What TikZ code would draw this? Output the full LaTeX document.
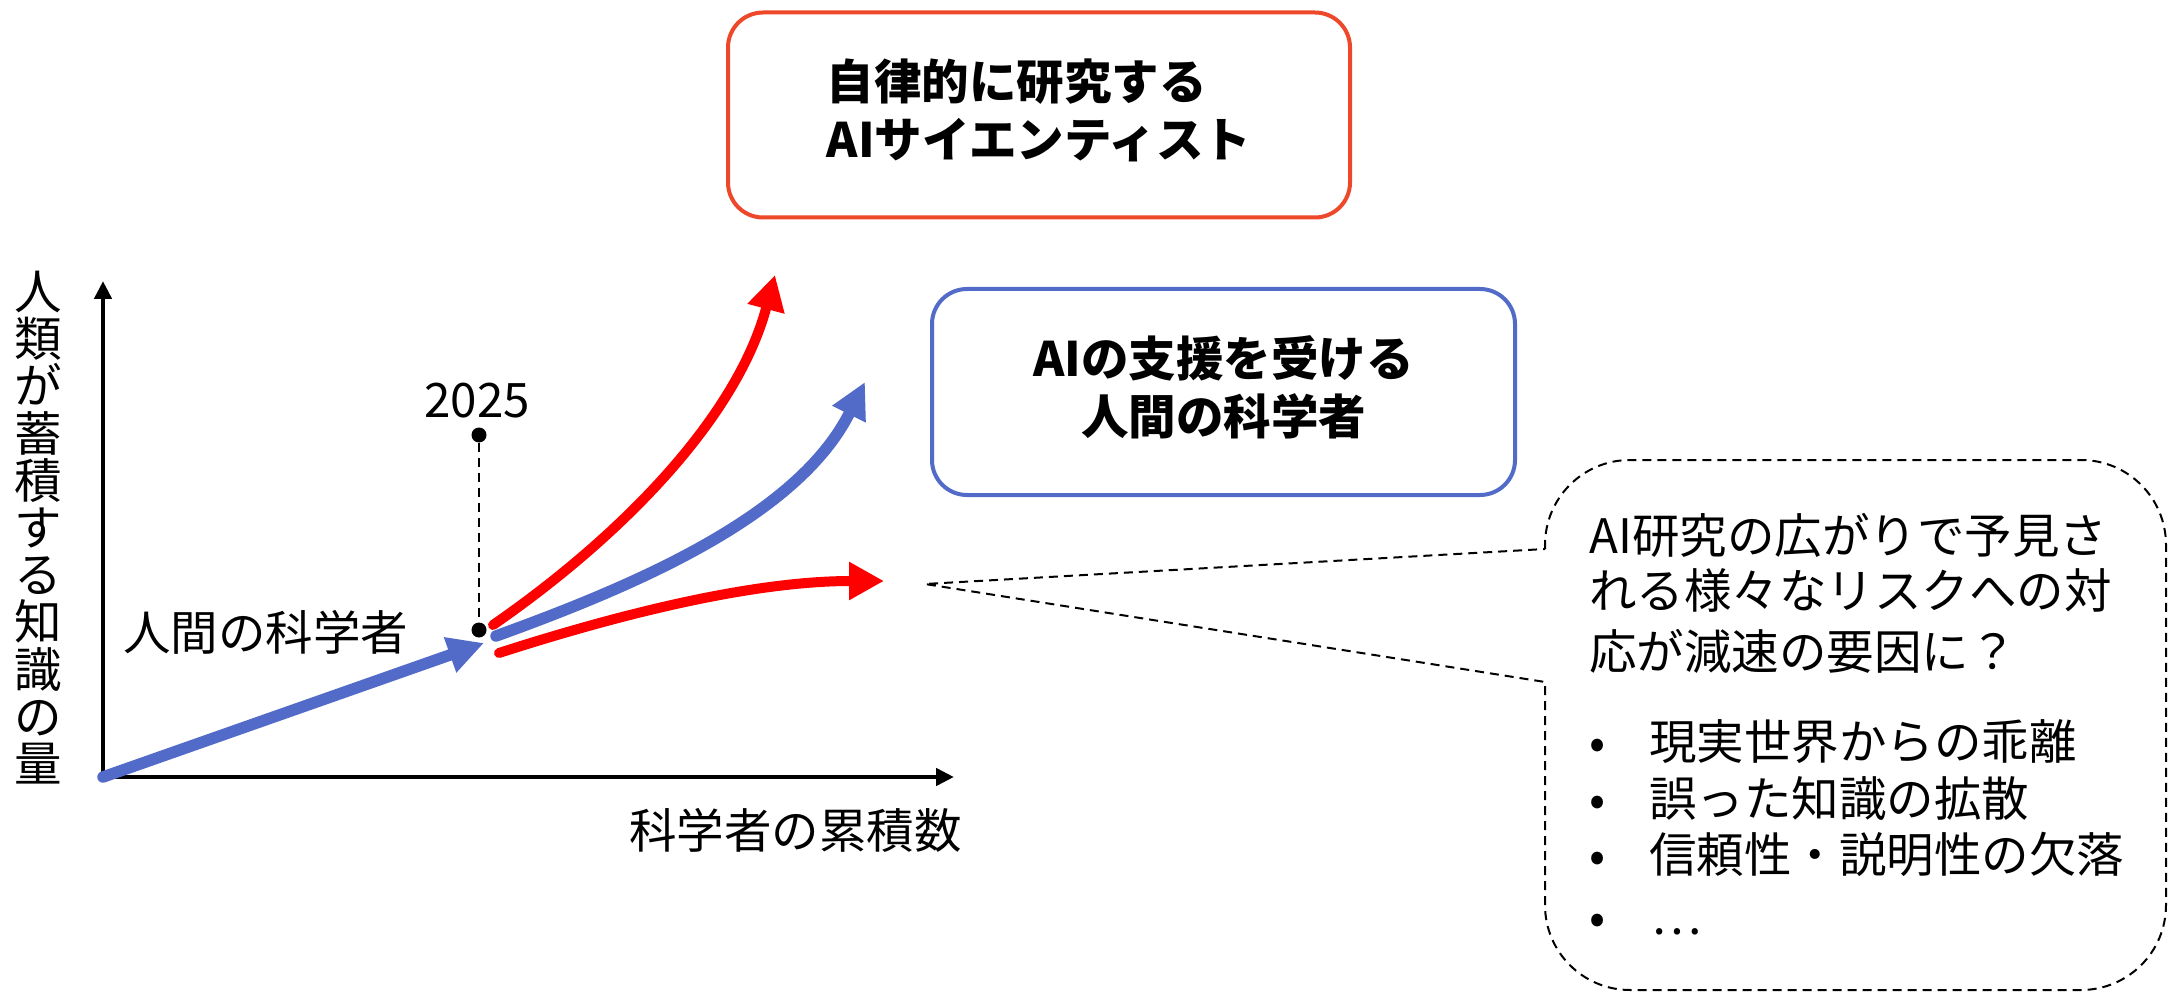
\documentclass[tikz,border=0pt]{standalone}
\usepackage{fontspec}
\setmainfont{Noto Sans CJK JP}
\usetikzlibrary{arrows.meta}
\definecolor{boxred}{RGB}{238,72,42}
\definecolor{aiblue}{RGB}{82,106,200}
\definecolor{arrred}{RGB}{255,0,0}
\begin{document}
\begin{tikzpicture}[x=1pt,y=-1pt,
  txt/.style={inner sep=0pt, font=\fontsize{47.5pt}{58pt}\selectfont},
  boldtxt/.style={font=\fontsize{47.5pt}{58pt}\selectfont\bfseries},
  redbox/.style={draw=boxred, line width=4pt, rounded corners=35pt},
  bluebox/.style={draw=aiblue, line width=4pt, rounded corners=35pt},
  axis/.style={line width=4.5pt, -{Triangle[length=18pt,width=17pt]}},
  bluearrow/.style={draw=aiblue, line width=11.5pt, line cap=round, -{Triangle[length=36pt,width=35pt]}},
  redarrow/.style={draw=arrred, line width=10pt, line cap=round, -{Triangle[length=35pt,width=36pt]}},
  dot/.style={circle, fill=black, inner sep=0pt, minimum size=15pt},
  thindash/.style={line width=2pt, dash pattern=on 9pt off 6pt},
  bullet/.style={txt, anchor=base},
  item/.style={txt, anchor=base west}
]
\useasboundingbox (0,0) rectangle (2169,992);
\fill[white] (0,0) rectangle (2169,992);

% boxes
\node[redbox, minimum width=622pt, minimum height=205pt] (autonomous) at (1039,115) {};
\node[boldtxt, align=left] (autonomoustext) at (autonomous.center) [yshift=5pt] {自律的に研究する\\AIサイエンティスト};
\node[bluebox, minimum width=583pt, minimum height=206pt] (assisted) at (1223.5,392) {};
\node[boldtxt, align=center] (assistedtext) at (assisted.center) [yshift=5pt] {AIの支援を受ける\\人間の科学者};

% axes
\coordinate (O) at (103,777);
\coordinate (ytop) at (103,281);
\coordinate (xend) at (954,777);
\draw[axis] (O) -- (ytop);
\draw[axis] (O) -- (xend);
\node[txt, align=center, font=\fontsize{47.5pt}{47.2pt}\selectfont] (ylabel) at (38.5,527.5) {人\\類\\が\\蓄\\積\\す\\る\\知\\識\\の\\量};
\node[item] (xlabel) at (629,848) {科学者の累積数};

% 2025 marker
\node[dot] (top2025) at (479,435) {};
\node[dot] (bot2025) at (479,630) {};
\draw[thindash, line width=1.8pt] (top2025) -- (bot2025);
\node[txt, anchor=base] (year) at (477,417) {2025};
\node[item] (human) at (123,650) {人間の科学者};

% growth arrows
\coordinate (h1) at (484,643);
\draw[bluearrow] (O) -- (h1);
\coordinate (rs1) at (493,625);
\coordinate (re1) at (775,275);
\draw[redarrow] (rs1) .. controls (616,540) and (736,421) .. (re1);
\coordinate (bs) at (496,636);
\coordinate (be) at (865,382);
\draw[bluearrow] (bs) .. controls (637,585) and (798,516) .. (be);
\coordinate (rs2) at (499,653);
\coordinate (re2) at (884,581);
\draw[redarrow] (rs2) .. controls (623,613) and (754,581) .. (re2);

% callout bubble
\coordinate (ptr) at (925,584);
\draw[thindash] (1545,549) -- (1545,545) .. controls (1545,498) and (1583,460) .. (1630,460)
  -- (2081,460) .. controls (2128,460) and (2166,498) .. (2166,545)
  -- (2166,905) .. controls (2166,952) and (2128,990) .. (2081,990)
  -- (1630,990) .. controls (1583,990) and (1545,952) .. (1545,905)
  -- (1545,682) -- (ptr) -- cycle;

\node[item] (q1) at (1589,553) {AI研究の広がりで予見さ};
\node[item] (q2) at (1589,608) {れる様々なリスクへの対};
\node[item] (q3) at (1589,669) {応が減速の要因に？};

\node[bullet] (b1) at (1598,759) {•};
\node[bullet] (b2) at (1598,816) {•};
\node[bullet] (b3) at (1598,872) {•};
\node[bullet] (b4) at (1598,934) {•};
\node[item] (i1) at (1649,759) {現実世界からの乖離};
\node[item] (i2) at (1649,816) {誤った知識の拡散};
\node[item] (i3) at (1649,872) {信頼性・説明性の欠落};
\node[item] (i4) at (1651,934) {…};
\end{tikzpicture}
\end{document}
